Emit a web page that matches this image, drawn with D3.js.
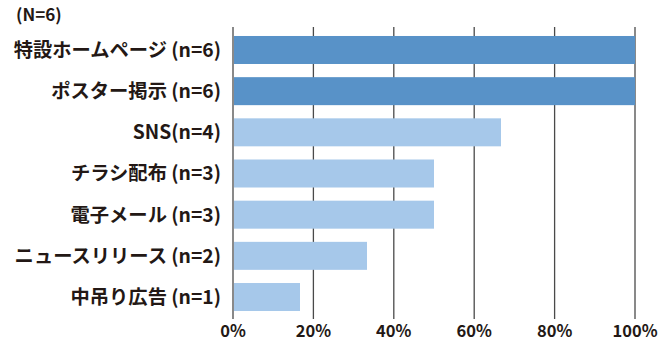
<!DOCTYPE html>
<html>
<head>
<meta charset="utf-8">
<script src="https://cdn.jsdelivr.net/npm/d3@7"></script>
<style>
  body { margin: 0; background: #fff; }
  text { font-family: "Noto Sans CJK JP", "Noto Sans", sans-serif; fill: #231815; }
</style>
</head>
<body>
<svg id="chart"></svg>
<script>
// data
const categories = ["特設ホームページ (n=6)", "ポスター掲示 (n=6)", "SNS(n=4)", "チラシ配布 (n=3)",
  "電子メール (n=3)", "ニュースリリース (n=2)", "中吊り広告 (n=1)"];
const counts = [6, 6, 4, 3, 3, 2, 1];
const total = 6;
const tickValues = [0, 20, 40, 60, 80, 100];

const width = 659, height = 342;
const plot = { left: 233, right: 635, top: 27, bottom: 319 };

const svg = d3.select("#chart")
    .attr("width", width)
    .attr("height", height);

const x = d3.scaleLinear().domain([0, 100]).range([plot.left, plot.right]);
const y = d3.scaleBand()
    .domain(categories)
    .range([29.4, 317.6])
    .paddingInner(0.32)
    .paddingOuter(0.16);

// grid lines (behind bars)
svg.append("g")
    .selectAll("line")
    .data(tickValues)
    .enter()
    .append("line")
    .attr("x1", d => x(d))
    .attr("x2", d => x(d))
    .attr("y1", plot.top)
    .attr("y2", plot.bottom)
    .style("stroke", "#4a4a4a")
    .style("stroke-width", 1.3);

// bars
svg.append("g")
    .selectAll("rect")
    .data(categories)
    .enter()
    .append("rect")
    .attr("x", x(0) + 1)
    .attr("y", d => y(d))
    .attr("height", y.bandwidth())
    .attr("width", (d, i) => x(counts[i] / total * 100) - x(0) - 1)
    .attr("fill", (d, i) => counts[i] === total ? "#5892c8" : "#a6c8ea");

// category labels
svg.append("g")
    .selectAll("text")
    .data(categories)
    .enter()
    .append("text")
    .attr("x", 221)
    .attr("y", d => y(d) + y.bandwidth() / 2)
    .attr("dy", "0.36em")
    .attr("text-anchor", "end")
    .style("font-size", "19.3px")
    .style("font-weight", "700")
    .text(d => d);

// x tick labels
svg.append("g")
    .selectAll("text")
    .data(tickValues)
    .enter()
    .append("text")
    .attr("x", d => x(d))
    .attr("y", 337)
    .attr("text-anchor", "middle")
    .style("font-size", "16.5px")
    .style("font-weight", "700")
    .text(d => d + "%");

svg.append("text")
    .attr("x", 16)
    .attr("y", 21)
    .style("font-size", "17px")
    .style("font-weight", "700")
    .text("(N=6)");
</script>
</body>
</html>
